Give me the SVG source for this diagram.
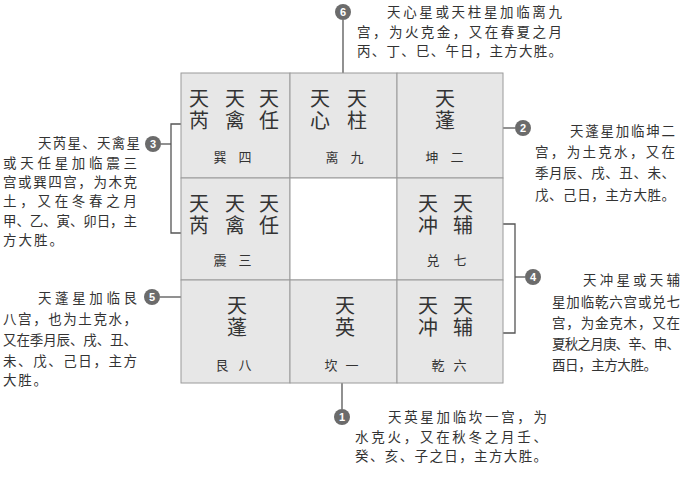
<svg xmlns="http://www.w3.org/2000/svg" width="692" height="478" viewBox="0 0 692 478">
<style>
.cell{fill:#e7e7e7;stroke:#9a9a9a;stroke-width:1}
.center{fill:#ffffff;stroke:#9a9a9a;stroke-width:1}
.star{font-family:"Noto Sans CJK SC","Noto Sans CJK JP",sans-serif;font-size:20px;fill:#333;writing-mode:vertical-rl;letter-spacing:2px}
.lbl{font-family:"Noto Sans CJK SC","Noto Sans CJK JP",sans-serif;font-size:13px;fill:#333;text-anchor:middle}
.note{font-family:"Noto Sans CJK SC","Noto Sans CJK JP",sans-serif;font-size:13.5px;fill:#333}
.conn{fill:none;stroke:#555;stroke-width:1.3}
.badge{fill:#6b6b6b}
.num{font-family:"Liberation Sans",Arial,sans-serif;font-size:11px;font-weight:bold;fill:#fff;text-anchor:middle}
</style>
<rect width="692" height="478" fill="#fff"/>
<g id="connectors">
<line class="conn" x1="343" y1="20" x2="343" y2="73"/>
<line class="conn" x1="342" y1="383" x2="342" y2="409"/>
<path class="conn" d="M181,124 H171 V233 H181"/>
<line class="conn" x1="161" y1="144" x2="171" y2="144"/>
<line class="conn" x1="160" y1="297" x2="181" y2="297"/>
<line class="conn" x1="503" y1="128" x2="515" y2="128"/>
<path class="conn" d="M503,224 H515 V333 H503"/>
<line class="conn" x1="515" y1="277" x2="525" y2="277"/>
</g>
<g id="cell-xun4">
<rect class="cell" x="181" y="73" width="109" height="105"/>
<text class="star" x="199" y="88">天芮</text>
<text class="star" x="235" y="88">天禽</text>
<text class="star" x="269" y="88">天任</text>
<text class="lbl" x="220" y="162">巽</text><text class="lbl" x="245" y="162">四</text>
</g>
<g id="cell-li9">
<rect class="cell" x="290" y="73" width="107" height="105"/>
<text class="star" x="320" y="88">天心</text>
<text class="star" x="357" y="88">天柱</text>
<text class="lbl" x="332" y="162">离</text><text class="lbl" x="357" y="162">九</text>
</g>
<g id="cell-kun2">
<rect class="cell" x="397" y="73" width="106" height="105"/>
<text class="star" x="445" y="88">天蓬</text>
<text class="lbl" x="432" y="162">坤</text><text class="lbl" x="457" y="162">二</text>
</g>
<g id="cell-zhen3">
<rect class="cell" x="181" y="178" width="109" height="102"/>
<text class="star" x="199" y="193">天芮</text>
<text class="star" x="235" y="193">天禽</text>
<text class="star" x="269" y="193">天任</text>
<text class="lbl" x="220" y="265">震</text><text class="lbl" x="245" y="265">三</text>
</g>
<g id="cell-center">
<rect class="center" x="290" y="178" width="107" height="102"/>
</g>
<g id="cell-dui7">
<rect class="cell" x="397" y="178" width="106" height="102"/>
<text class="star" x="428" y="193">天冲</text>
<text class="star" x="463" y="193">天辅</text>
<text class="lbl" x="433" y="265">兑</text><text class="lbl" x="460" y="265">七</text>
</g>
<g id="cell-gen8">
<rect class="cell" x="181" y="280" width="109" height="103"/>
<text class="star" x="237" y="295">天蓬</text>
<text class="lbl" x="222" y="370">艮</text><text class="lbl" x="245" y="370">八</text>
</g>
<g id="cell-kan1">
<rect class="cell" x="290" y="280" width="107" height="103"/>
<text class="star" x="345" y="295">天英</text>
<text class="lbl" x="331" y="370">坎</text><text class="lbl" x="352" y="370">一</text>
</g>
<g id="cell-qian6">
<rect class="cell" x="397" y="280" width="106" height="103"/>
<text class="star" x="428" y="295">天冲</text>
<text class="star" x="463" y="295">天辅</text>
<text class="lbl" x="438" y="370">乾</text><text class="lbl" x="460" y="370">六</text>
</g>
<g id="note-6">
<circle class="badge" cx="343" cy="12" r="8"/><text class="num" x="343" y="16">6</text>
<text class="note" x="387" y="17" textLength="175" lengthAdjust="spacing">天心星或天柱星加临离九</text>
<text class="note" x="357" y="37" textLength="205" lengthAdjust="spacing">宫，为火克金，又在春夏之月</text>
<text class="note" x="357" y="56" textLength="205" lengthAdjust="spacing">丙、丁、巳、午日，主方大胜。</text>
</g>
<g id="note-3">
<circle class="badge" cx="153" cy="144" r="8"/><text class="num" x="153" y="148">3</text>
<text class="note" x="38" y="148" textLength="102" lengthAdjust="spacing">天芮星、天禽星</text>
<text class="note" x="3" y="168" textLength="134" lengthAdjust="spacing">或天任星加临震三</text>
<text class="note" x="3" y="187" textLength="134" lengthAdjust="spacing">宫或巽四宫，为木克</text>
<text class="note" x="3" y="206" textLength="134" lengthAdjust="spacing">土，又在冬春之月</text>
<text class="note" x="3" y="226" textLength="134" lengthAdjust="spacing">甲、乙、寅、卯日，主</text>
<text class="note" x="3" y="245" textLength="60" lengthAdjust="spacing">方大胜。</text>
</g>
<g id="note-5">
<circle class="badge" cx="152" cy="297" r="8"/><text class="num" x="152" y="301">5</text>
<text class="note" x="38" y="303" textLength="99" lengthAdjust="spacing">天蓬星加临艮</text>
<text class="note" x="3" y="324" textLength="134" lengthAdjust="spacing">八宫，也为土克水，</text>
<text class="note" x="3" y="345" textLength="134" lengthAdjust="spacing">又在季月辰、戌、丑、</text>
<text class="note" x="3" y="366" textLength="134" lengthAdjust="spacing">未、戊、己日，主方</text>
<text class="note" x="3" y="385" textLength="44" lengthAdjust="spacing">大胜。</text>
</g>
<g id="note-2">
<circle class="badge" cx="523" cy="128" r="8"/><text class="num" x="523" y="132">2</text>
<text class="note" x="570" y="136" textLength="105" lengthAdjust="spacing">天蓬星加临坤二</text>
<text class="note" x="535" y="157" textLength="140" lengthAdjust="spacing">宫，为土克水，又在</text>
<text class="note" x="535" y="178" textLength="140" lengthAdjust="spacing">季月辰、戌、丑、未、</text>
<text class="note" x="535" y="200" textLength="140" lengthAdjust="spacing">戊、己日，主方大胜。</text>
</g>
<g id="note-4">
<circle class="badge" cx="533" cy="277" r="8"/><text class="num" x="533" y="281">4</text>
<text class="note" x="583" y="285" textLength="97" lengthAdjust="spacing">天冲星或天辅</text>
<text class="note" x="552" y="307" textLength="128" lengthAdjust="spacing">星加临乾六宫或兑七</text>
<text class="note" x="552" y="328" textLength="128" lengthAdjust="spacing">宫，为金克木，又在</text>
<text class="note" x="552" y="349" textLength="128" lengthAdjust="spacing">夏秋之月庚、辛、申、</text>
<text class="note" x="552" y="370" textLength="105" lengthAdjust="spacing">酉日，主方大胜。</text>
</g>
<g id="note-1">
<circle class="badge" cx="342" cy="417" r="8"/><text class="num" x="342" y="421">1</text>
<text class="note" x="388" y="422" textLength="159" lengthAdjust="spacing">天英星加临坎一宫，为</text>
<text class="note" x="355" y="442" textLength="192" lengthAdjust="spacing">水克火，又在秋冬之月壬、</text>
<text class="note" x="355" y="461" textLength="192" lengthAdjust="spacing">癸、亥、子之日，主方大胜。</text>
</g>
</svg>
